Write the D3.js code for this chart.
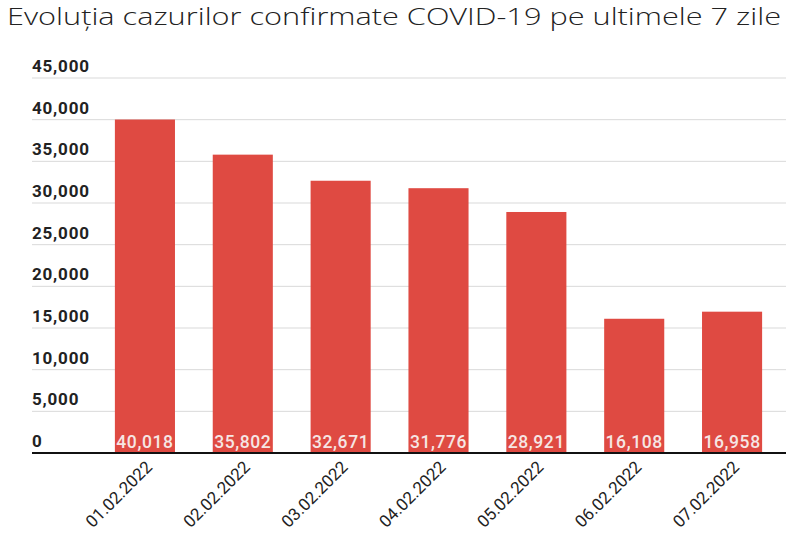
<!DOCTYPE html>
<html><head><meta charset="utf-8">
<script src="https://cdn.jsdelivr.net/npm/d3@7"></script>
<style>body{margin:0;background:#fff;}svg{display:block;}</style>
</head><body>
<script>
const title = "Evoluția cazurilor confirmate COVID-19 pe ultimele 7 zile";
const categories = ["01.02.2022","02.02.2022","03.02.2022","04.02.2022","05.02.2022","06.02.2022","07.02.2022"];
const cases = [40018, 35802, 32671, 31776, 28921, 16108, 16958];
const yTicks = [0, 5000, 10000, 15000, 20000, 25000, 30000, 35000, 40000, 45000];

const W = 800, H = 535;
const svg = d3.select("body").append("svg").attr("width", W).attr("height", H);

const gridLeft = 32, gridRight = 786;
const y = d3.scaleLinear().domain([0, 45000]).range([453, 78]);
const x = d3.scaleBand().domain(categories).range([96, 781]).paddingInner(0.386).paddingOuter(0.193);
const fmt = d3.format(",");

svg.append("text").attr("x", 7).attr("y", 25)
  .attr("font-family", "'Open Sans', sans-serif").attr("font-weight", 300)
  .attr("font-size", 24).attr("fill", "#222")
  .attr("textLength", 774).attr("lengthAdjust", "spacingAndGlyphs")
  .text(title);

// gridlines
svg.append("g").selectAll("line").data(yTicks.filter(d => d > 0)).join("line")
  .attr("x1", gridLeft).attr("x2", gridRight)
  .attr("y1", d => y(d)).attr("y2", d => y(d))
  .attr("stroke", "#d9d9d9").attr("stroke-width", 1);

// y labels
svg.append("g").selectAll("text").data(yTicks).join("text")
  .attr("x", gridLeft).attr("y", d => y(d) - 6)
  .attr("font-family", "Roboto").attr("font-weight", 700)
  .attr("font-size", 17).attr("letter-spacing", 0.8).attr("fill", "#222")
  .text(d => fmt(d));

// bars
svg.append("g").selectAll("rect").data(cases).join("rect")
  .attr("x", (d, i) => x(categories[i])).attr("width", x.bandwidth())
  .attr("y", d => y(d)).attr("height", d => y(0) - y(d))
  .attr("fill", "#df4a42");

// value labels
svg.append("g").selectAll("text").data(cases).join("text")
  .attr("x", (d, i) => x(categories[i]) + x.bandwidth() / 2).attr("y", y(0) - 5)
  .attr("text-anchor", "middle")
  .attr("font-family", "Roboto").attr("font-weight", 500)
  .attr("font-size", 17.5).attr("letter-spacing", 0.6).attr("fill", "#f6e6e4")
  .text(d => fmt(d));

// baseline
svg.append("line").attr("x1", gridLeft).attr("x2", gridRight)
  .attr("y1", y(0)).attr("y2", y(0)).attr("stroke", "#111").attr("stroke-width", 2);

// x labels
svg.append("g").selectAll("text").data(categories).join("text")
  .attr("transform", d => `translate(${x(d) + x.bandwidth() / 2 + 4},${y(0) + 11}) rotate(-45)`)
  .attr("text-anchor", "end").attr("dy", "0.35em")
  .attr("font-family", "Roboto").attr("font-weight", 400)
  .attr("font-size", 17).attr("fill", "#222")
  .text(d => d);
</script>
</body></html>
